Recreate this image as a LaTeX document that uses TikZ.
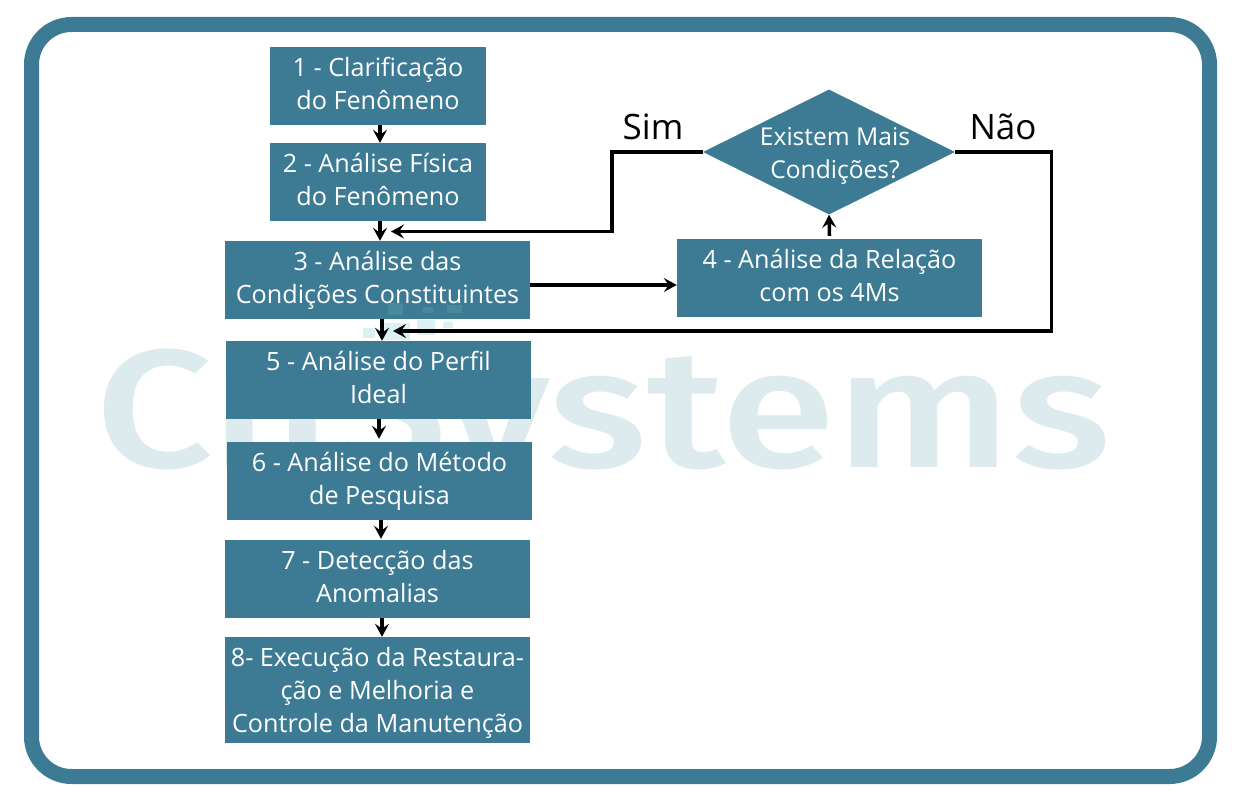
\documentclass[tikz,border=0pt]{standalone}
\usepackage{fontspec}
\setmainfont{Open Sans}
\newfontfamily\markfont{Fira Sans Medium}
\usetikzlibrary{shapes.geometric,arrows.meta}
\definecolor{tealbox}{HTML}{3D7B94}
\definecolor{markcolor}{HTML}{DDEBEE}
\definecolor{dotcolor}{HTML}{DCF1F3}
\definecolor{dotdark}{HTML}{478A9C}
\tikzset{
    stepbox/.style={rectangle,fill=tealbox,text=white,inner sep=0pt,minimum height=78pt,minimum width=305pt,align=center,text depth=6pt,font=\fontsize{25.2}{33}\selectfont},
    smallbox/.style={stepbox,minimum width=216pt},
    askbox/.style={diamond,fill=tealbox,inner sep=0pt,shape aspect=2,minimum width=252pt,minimum height=125pt},
    asktext/.style={text=white,inner sep=0pt,align=center,font=\fontsize{24.6}{33}\selectfont},
    answer/.style={inner sep=0pt,font=\fontsize{35}{35}\selectfont},
    flow/.style={line width=3.5pt,-{Stealth[length=13pt,width=14pt,inset=5pt]}}
}
\begin{document}
\begin{tikzpicture}[x=1pt,y=-1pt]
    \useasboundingbox (0,0) rectangle (1240,800);
    \fill[white] (0,0) rectangle (1240,800);
    \draw[tealbox,line width=15pt,rounded corners=40pt] (31.5,24.5) rectangle (1209.5,776.5);

    \node[inner sep=0pt,text=markcolor,font=\markfont\fontsize{168}{168}\selectfont] (mark) at (603,427) {\scalebox{1.235}[1]{CnSystems}};
    \fill[dotcolor] (363,328) rectangle ++(12,10);
    \fill[dotcolor] (417,320) rectangle ++(18,15);
    \fill[dotcolor] (443,322) rectangle ++(10,6);
    \fill[dotcolor] (383,323) rectangle ++(27,17);

    \node[smallbox] (clarify) at (378,86) {1 - Clarificação\\do Fenômeno};
    \node[smallbox] (physics) at (378,182) {2 - Análise Física\\do Fenômeno};
    \node[stepbox] (conditions) at (377.5,280) {3 - Análise das\\Condições Constituintes};
    \node[stepbox] (relation) at (829.5,278) {4 - Análise da Relação\\com os 4Ms};
    \node[stepbox] (profile) at (378.5,380) {5 - Análise do Perfil\\Ideal};
    \node[stepbox] (method) at (379.5,481) {6 - Análise do Método\\de Pesquisa};
    \node[stepbox] (anomaly) at (377.5,579) {7 - Detecção das\\Anomalias};
    \node[stepbox,minimum height=106pt,text depth=0pt] (repair) at (377.5,690) {8- Execução da Restaura-\\ção e Melhoria e\\Controle da Manutenção};
    \node[askbox] (more) at (829,152) {};
    \node[asktext] (moretext) at (835,156) {Existem Mais\\Condições?};

    \fill[dotdark] (388,303) rectangle ++(15,12);
    \fill[dotdark] (423,307) rectangle ++(10,6);
    \fill[dotdark] (447,305) rectangle ++(15,8);

    \node[answer] (yes) at (653,127) {Sim};
    \node[answer] (no) at (1003,127) {Não};

    \coordinate (yesend) at (391,231.5);
    \coordinate (noend) at (393,331);

    \draw[flow] ([xshift=2pt]clarify.south) -- ([xshift=2pt]physics.north);
    \draw[flow] ([xshift=2pt]physics.south) -- ([xshift=2.5pt]conditions.north);
    \draw[flow] ([xshift=4.5pt]conditions.south) -- ([xshift=3.5pt]profile.north);
    \draw[flow] ([xshift=0.5pt]profile.south) -- ([xshift=-0.5pt,yshift=3pt]method.north);
    \draw[flow] ([xshift=1.5pt]method.south) -- ([xshift=3.5pt,yshift=1pt]anomaly.north);
    \draw[flow] ([xshift=4.5pt]anomaly.south) -- ([xshift=4.5pt]repair.north);
    \draw[flow] (conditions.east |- 0,285) -- (relation.west |- 0,285);
    \draw[flow] ([yshift=3pt]relation.north) -- (more.south);
    \draw[flow] (more.west) -- (612,152) -- (612,231.5) -- (yesend);
    \draw[flow] (more.east) -- (1051.5,152) -- (1051.5,331) -- (noend);
\end{tikzpicture}
\end{document}
